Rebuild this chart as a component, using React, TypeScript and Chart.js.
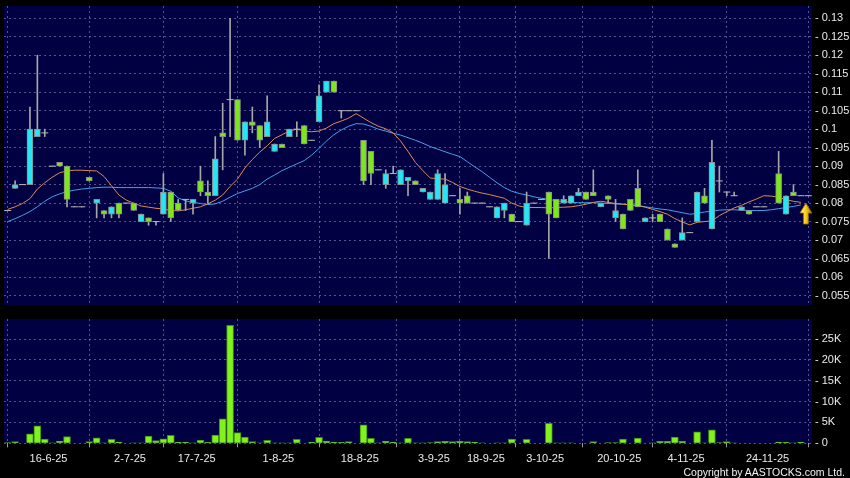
import React, { useEffect, useRef } from 'react';
import { Chart, registerables } from 'chart.js';

Chart.register(...registerables);

// ---------- data ----------
const openPrice = [
  0.078, 0.084, 0.085, 0.085, 0.098, 0.099, 0.090, 0.091, 0.090, 0.079,
  0.079, 0.087, 0.080, 0.078, 0.077, 0.080, 0.080, 0.080, 0.075, 0.076,
  0.075, 0.077, 0.083, 0.080, 0.081, 0.080, 0.086, 0.083, 0.082, 0.099,
  0.108, 0.108, 0.097, 0.102, 0.101, 0.098, 0.094, 0.096, 0.098, 0.100,
  0.101, 0.097, 0.102, 0.110, 0.113, 0.105, 0.105, 0.105, 0.097, 0.094,
  0.089, 0.085, 0.088, 0.085, 0.086, 0.086, 0.083, 0.081, 0.081, 0.080,
  0.082, 0.081, 0.082, 0.080, 0.080, 0.079, 0.076, 0.078, 0.077, 0.075,
  0.074, 0.080, 0.081, 0.083, 0.081, 0.080, 0.080, 0.082, 0.083, 0.083,
  0.079, 0.082, 0.076, 0.077, 0.081, 0.084, 0.075, 0.076, 0.077, 0.073,
  0.069, 0.070, 0.072, 0.075, 0.082, 0.073, 0.086, 0.083, 0.082, 0.078,
  0.078, 0.079, 0.079, null, 0.088, 0.077, 0.083, 0.082, 0.082,
];
const highPrice = [
  0.078, 0.086, 0.085, 0.106, 0.120, 0.100, 0.090, 0.091, 0.090, 0.079,
  0.079, 0.087, 0.081, 0.078, 0.079, 0.080, 0.080, 0.080, 0.077, 0.076,
  0.075, 0.088, 0.083, 0.081, 0.081, 0.081, 0.090, 0.086, 0.098, 0.107,
  0.130, 0.108, 0.102, 0.106, 0.101, 0.109, 0.096, 0.096, 0.100, 0.102,
  0.101, 0.097, 0.112, 0.113, 0.113, 0.105, 0.105, 0.105, 0.097, 0.094,
  0.089, 0.089, 0.090, 0.089, 0.087, 0.086, 0.084, 0.083, 0.089, 0.088,
  0.082, 0.084, 0.083, 0.080, 0.080, 0.079, 0.079, 0.080, 0.077, 0.075,
  0.083, 0.080, 0.081, 0.083, 0.081, 0.082, 0.082, 0.084, 0.083, 0.089,
  0.080, 0.082, 0.081, 0.077, 0.081, 0.089, 0.076, 0.077, 0.077, 0.073,
  0.069, 0.076, 0.072, 0.083, 0.084, 0.097, 0.090, 0.083, 0.083, 0.079,
  0.078, 0.079, 0.079, null, 0.094, 0.082, 0.085, 0.082, 0.082,
];
const lowPrice = [
  0.078, 0.084, 0.085, 0.085, 0.098, 0.098, 0.090, 0.090, 0.079, 0.079,
  0.079, 0.086, 0.076, 0.076, 0.076, 0.076, 0.080, 0.078, 0.075, 0.074,
  0.074, 0.077, 0.075, 0.078, 0.078, 0.077, 0.082, 0.080, 0.082, 0.089,
  0.098, 0.097, 0.093, 0.099, 0.095, 0.098, 0.094, 0.095, 0.098, 0.098,
  0.096, 0.097, 0.102, 0.110, 0.110, 0.103, 0.105, 0.105, 0.085, 0.085,
  0.089, 0.084, 0.088, 0.085, 0.082, 0.085, 0.083, 0.081, 0.081, 0.080,
  0.082, 0.077, 0.080, 0.080, 0.080, 0.079, 0.076, 0.076, 0.075, 0.075,
  0.074, 0.080, 0.081, 0.065, 0.076, 0.080, 0.080, 0.082, 0.081, 0.082,
  0.079, 0.080, 0.075, 0.073, 0.078, 0.079, 0.075, 0.075, 0.075, 0.070,
  0.068, 0.070, 0.072, 0.075, 0.080, 0.073, 0.083, 0.082, 0.082, 0.078,
  0.077, 0.079, 0.079, null, 0.080, 0.077, 0.082, 0.082, 0.082,
];
const closePrice = [
  0.078, 0.085, 0.085, 0.100, 0.100, 0.099, 0.090, 0.090, 0.081, 0.079,
  0.079, 0.086, 0.081, 0.077, 0.079, 0.077, 0.080, 0.078, 0.077, 0.075,
  0.075, 0.083, 0.076, 0.078, 0.081, 0.081, 0.083, 0.082, 0.092, 0.098,
  0.108, 0.097, 0.102, 0.101, 0.097, 0.102, 0.096, 0.095, 0.100, 0.100,
  0.096, 0.097, 0.109, 0.113, 0.110, 0.105, 0.105, 0.105, 0.086, 0.088,
  0.089, 0.088, 0.088, 0.089, 0.087, 0.085, 0.084, 0.083, 0.088, 0.085,
  0.082, 0.080, 0.080, 0.080, 0.080, 0.079, 0.079, 0.080, 0.075, 0.075,
  0.080, 0.080, 0.081, 0.077, 0.076, 0.081, 0.082, 0.083, 0.081, 0.082,
  0.080, 0.081, 0.078, 0.073, 0.078, 0.079, 0.076, 0.076, 0.075, 0.070,
  0.068, 0.072, 0.072, 0.083, 0.080, 0.091, 0.086, 0.083, 0.082, 0.079,
  0.077, 0.079, 0.079, null, 0.080, 0.082, 0.082, 0.082, 0.082,
];
const volume = [
  150, 400, 0, 2300, 4200, 1000, 50, 550, 1600, 0,
  0, 400, 1300, 100, 950, 300, 0, 100, 100, 1750,
  650, 1100, 1900, 300, 300, 100, 800, 250, 2000, 5850,
  28300, 2550, 1500, 400, 100, 700, 60, 60, 60, 960,
  0, 300, 1450, 560, 320, 250, 400, 0, 4400, 1200,
  50, 560, 320, 100, 1200, 50, 50, 150, 400, 480,
  400, 480, 400, 320, 100, 0, 100, 100, 1040, 0,
  960, 0, 0, 4800, 100, 100, 100, 0, 0, 400,
  0, 150, 150, 1040, 0, 1280, 0, 100, 480, 480,
  1520, 480, 0, 2720, 100, 3200, 150, 400, 100, 0,
  0, 0, 0, 0, 320, 240, 100, 320, 0,
];
const ma10 = [
  0.0783, 0.0790, 0.0799, 0.0812, 0.0838, 0.0855, 0.0870, 0.0882, 0.0887, 0.0889,
  0.0889, 0.0888, 0.0887, 0.0872, 0.0847, 0.0822, 0.0808, 0.0800, 0.0792, 0.0789,
  0.0786, 0.0784, 0.0780, 0.0779, 0.0782, 0.0786, 0.0790, 0.0798, 0.0808, 0.0822,
  0.0845, 0.0865, 0.0895, 0.0918, 0.0938, 0.0955, 0.0975, 0.0985, 0.0995, 0.1000,
  0.0995, 0.0993, 0.0995, 0.1003, 0.1015, 0.1022, 0.1030, 0.1042, 0.1030, 0.1018,
  0.1008, 0.1001, 0.0990, 0.0968, 0.0940, 0.0910, 0.0888, 0.0868, 0.0866, 0.0865,
  0.0856, 0.0845, 0.0838, 0.0832, 0.0827, 0.0823, 0.0818, 0.0813, 0.0800, 0.0792,
  0.0788, 0.0788, 0.0788, 0.0787, 0.0788, 0.0789, 0.0790, 0.0793, 0.0797, 0.0802,
  0.0805, 0.0802, 0.0799, 0.0797, 0.0795, 0.0793, 0.0789, 0.0783, 0.0777, 0.0770,
  0.0758, 0.0749, 0.0741, 0.0748, 0.0750, 0.0752, 0.0766, 0.0777, 0.0787, 0.0794,
  0.0803, 0.0811, 0.0820, 0.0819, 0.0816, 0.0809, 0.0805, 0.0802, null,
];
const ma20 = [
  0.0750, 0.0758, 0.0767, 0.0777, 0.0790, 0.0805, 0.0817, 0.0825, 0.0831, 0.0835,
  0.0838, 0.0840, 0.0842, 0.0843, 0.0843, 0.0842, 0.0842, 0.0842, 0.0842, 0.0842,
  0.0841, 0.0840, 0.0832, 0.0814, 0.0806, 0.0802, 0.0799, 0.0796, 0.0798, 0.0805,
  0.0816, 0.0826, 0.0833, 0.0840, 0.0850, 0.0865, 0.0876, 0.0888, 0.0897, 0.0906,
  0.0915, 0.0930, 0.0948, 0.0968, 0.0985, 0.0998, 0.1008, 0.1015, 0.1014, 0.1008,
  0.1000, 0.0995, 0.0989, 0.0984, 0.0977, 0.0970, 0.0962, 0.0953, 0.0946, 0.0939,
  0.0932, 0.0926, 0.0912, 0.0898, 0.0885, 0.0870, 0.0855, 0.0842, 0.0832, 0.0826,
  0.0822, 0.0817, 0.0813, 0.0810, 0.0806, 0.0804, 0.0802, 0.0801, 0.0801, 0.0801,
  0.0800, 0.0799, 0.0798, 0.0797, 0.0795, 0.0794, 0.0790, 0.0787, 0.0784, 0.0782,
  0.0778, 0.0774, 0.0770, 0.0772, 0.0776, 0.0778, 0.0781, 0.0782, 0.0782, 0.0781,
  0.0780, 0.0780, 0.0780, 0.0782, 0.0785, 0.0788, 0.0791, 0.0795, null,
];
// date ticks sit on the boundary between two sessions
const tickPositions = [5.5, 16.5, 25.5, 36.5, 47.5, 57.5, 64.5, 72.5, 82.5, 91.5, 102.5];
const tickLabels = ['16-6-25', '2-7-25', '17-7-25', '1-8-25', '18-8-25', '3-9-25', '18-9-25', '3-10-25', '20-10-25', '4-11-25', '24-11-25'];
const priceTicks = [0.055, 0.06, 0.065, 0.07, 0.075, 0.08, 0.085, 0.09, 0.095, 0.1, 0.105, 0.11, 0.115, 0.12, 0.125, 0.13];
const volumeTicks = [0, 5000, 10000, 15000, 20000, 25000];
const priceRange = { min: 0.05243, max: 0.13333 };
const volumeMax = 29800;
const signalArrow = { index: 107, price: 0.08 };

// ---------- styles ----------
const FONT = '"Liberation Sans", Arial, Helvetica, sans-serif';
const PLOT_BG = '#000042';
const GRID = 'rgba(150,150,205,0.55)';
const UP = '#25e6f5';
const DOWN = '#7fe61e';
const TEXT = '#eaeaea';

const candleIndex = closePrice.map((_, i) => i);
const X_MIN = -0.5;
const X_MAX = candleIndex.length - 0.5;

const plotBg = {
  id: 'plotBg',
  beforeDraw(chart: any) {
    const { ctx, chartArea: a } = chart;
    ctx.save();
    ctx.fillStyle = PLOT_BG;
    ctx.fillRect(a.left, a.top, a.right - a.left, a.bottom - a.top);
    ctx.restore();
  },
};

const arrowPlugin = {
  id: 'signalArrow',
  afterDatasetsDraw(chart: any) {
    const x = chart.scales.x.getPixelForValue(signalArrow.index) + 5;
    const y = chart.scales.y.getPixelForValue(signalArrow.price);
    const ctx = chart.ctx;
    ctx.save();
    const g = ctx.createLinearGradient(x - 6, 0, x + 6, 0);
    g.addColorStop(0, '#fff7a8');
    g.addColorStop(0.45, '#ffd21a');
    g.addColorStop(1, '#b07c00');
    ctx.fillStyle = g;
    ctx.beginPath();
    ctx.moveTo(x, y);
    ctx.lineTo(x + 6, y + 10);
    ctx.lineTo(x + 2.5, y + 10);
    ctx.lineTo(x + 2.5, y + 21);
    ctx.lineTo(x - 2.5, y + 21);
    ctx.lineTo(x - 2.5, y + 10);
    ctx.lineTo(x - 6, y + 10);
    ctx.closePath();
    ctx.fill();
    ctx.strokeStyle = '#8a6200';
    ctx.lineWidth = 0.8;
    ctx.stroke();
    ctx.restore();
  },
};

const fmtPrice = (v: number) => String(parseFloat(v.toFixed(3)));
const fmtVol = (v: number) => (v === 0 ? '0' : v / 1000 + 'K');

function xAxis(withLabels: boolean, height: number) {
  return {
    type: 'linear',
    min: X_MIN,
    max: X_MAX,
    offset: false,
    afterBuildTicks: (s: any) => {
      s.ticks = tickPositions.map((v) => ({ value: v }));
    },
    afterFit: (s: any) => {
      s.height = height;
      s.paddingLeft = 0;
      s.paddingRight = 0;
    },
    ticks: {
      display: withLabels,
      autoSkip: false,
      maxRotation: 0,
      padding: 5,
      color: TEXT,
      font: { family: FONT, size: 11 },
      callback: (_v: any, i: number) => tickLabels[i],
    },
    grid: {
      color: GRID,
      drawTicks: withLabels,
      tickLength: 4,
      tickColor: '#9a9a9a',
      tickBorderDash: [],
    },
    border: { display: false, dash: [2, 3] },
  };
}

function yAxis(min: number, max: number, values: number[], fmt: (v: number) => string) {
  return {
    type: 'linear',
    position: 'right',
    min,
    max,
    beginAtZero: false,
    afterBuildTicks: (s: any) => {
      s.ticks = values.map((v) => ({ value: v }));
    },
    afterFit: (s: any) => {
      s.width = 38;
      s.paddingTop = 0;
      s.paddingBottom = 0;
    },
    ticks: {
      color: TEXT,
      padding: 3,
      font: { family: FONT, size: 11 },
      callback: (v: any) => '- ' + fmt(Number(v)),
    },
    grid: { color: GRID, drawTicks: false },
    border: { display: false, dash: [2, 3] },
  };
}

export default function App() {
  const priceRef = useRef<HTMLCanvasElement>(null);
  const volRef = useRef<HTMLCanvasElement>(null);

  useEffect(() => {
    const common = {
      animation: false,
      responsive: false,
      maintainAspectRatio: false,
      devicePixelRatio: 1,
      events: [],
      plugins: { legend: { display: false }, tooltip: { enabled: false } },
    };

    const priceChart = new Chart(priceRef.current as HTMLCanvasElement, {
      type: 'bar',
      data: {
        labels: candleIndex,
        datasets: [
          {
            type: 'bar',
            label: 'wick',
            data: candleIndex.map((i) => (highPrice[i] == null ? null : [lowPrice[i], highPrice[i]])),
            backgroundColor: '#a6a6a6',
            borderWidth: 0,
            barThickness: 1,
            grouped: false,
            order: 2,
          },
          {
            type: 'bar',
            label: 'body',
            data: candleIndex.map((i) =>
              openPrice[i] == null || openPrice[i] === closePrice[i] ? null : [openPrice[i], closePrice[i]]
            ),
            backgroundColor: candleIndex.map((i) => ((closePrice[i] as number) > (openPrice[i] as number) ? UP : DOWN)),
            borderColor: '#8c8c8c',
            borderWidth: 1,
            borderSkipped: false,
            barThickness: 6,
            grouped: false,
            order: 1,
          },
          {
            type: 'line',
            label: 'doji',
            data: candleIndex.map((i) =>
              openPrice[i] != null && openPrice[i] === closePrice[i] ? closePrice[i] : null
            ),
            showLine: false,
            pointStyle: 'line',
            pointRadius: 3.5,
            pointHoverRadius: 3.5,
            pointBorderColor: '#b8b8b8',
            pointBackgroundColor: '#b8b8b8',
            pointBorderWidth: 1,
            order: 0,
          },
          {
            type: 'line',
            label: 'MA10',
            data: ma10,
            borderColor: '#e08a52',
            borderWidth: 1,
            pointRadius: 0,
            tension: 0,
            order: 3,
          },
          {
            type: 'line',
            label: 'MA20',
            data: ma20,
            borderColor: '#3fa3ea',
            borderWidth: 1,
            pointRadius: 0,
            tension: 0,
            order: 4,
          },
        ],
      } as any,
      options: {
        ...common,
        layout: { padding: { left: 4, top: 6, right: 0, bottom: 7 }, autoPadding: false },
        scales: {
          x: xAxis(false, 0),
          y: yAxis(priceRange.min, priceRange.max, priceTicks, fmtPrice),
        },
      } as any,
      plugins: [plotBg, arrowPlugin],
    });

    const volChart = new Chart(volRef.current as HTMLCanvasElement, {
      type: 'bar',
      data: {
        labels: candleIndex,
        datasets: [
          {
            label: 'Volume',
            data: volume,
            backgroundColor: '#80f21e',
            borderColor: '#3f8c0c',
            borderWidth: 1,
            barThickness: 7,
            grouped: false,
          },
        ],
      } as any,
      options: {
        ...common,
        layout: { padding: { left: 4, top: 9, right: 0, bottom: 0 }, autoPadding: false },
        scales: {
          x: xAxis(true, 34.7),
          y: yAxis(0, volumeMax, volumeTicks, fmtVol),
        },
      } as any,
      plugins: [plotBg],
    });

    return () => {
      priceChart.destroy();
      volChart.destroy();
    };
  }, []);

  return (
    <div
      style={{
        position: 'fixed',
        left: 0,
        top: 0,
        width: 850,
        height: 478,
        background: '#000',
        overflow: 'hidden',
      }}
    >
      <canvas
        ref={priceRef}
        width={850}
        height={312}
        style={{ position: 'absolute', left: 0, top: 0, width: 850, height: 312 }}
      />
      <canvas
        ref={volRef}
        width={850}
        height={168}
        style={{ position: 'absolute', left: 0, top: 310, width: 850, height: 168 }}
      />
      <div
        style={{
          position: 'absolute',
          right: 5,
          top: 466,
          color: '#f2f2f2',
          fontFamily: FONT,
          fontSize: 10.5,
          lineHeight: '12px',
          whiteSpace: 'nowrap',
        }}
      >
        Copyright by AASTOCKS.com Ltd.
      </div>
    </div>
  );
}
